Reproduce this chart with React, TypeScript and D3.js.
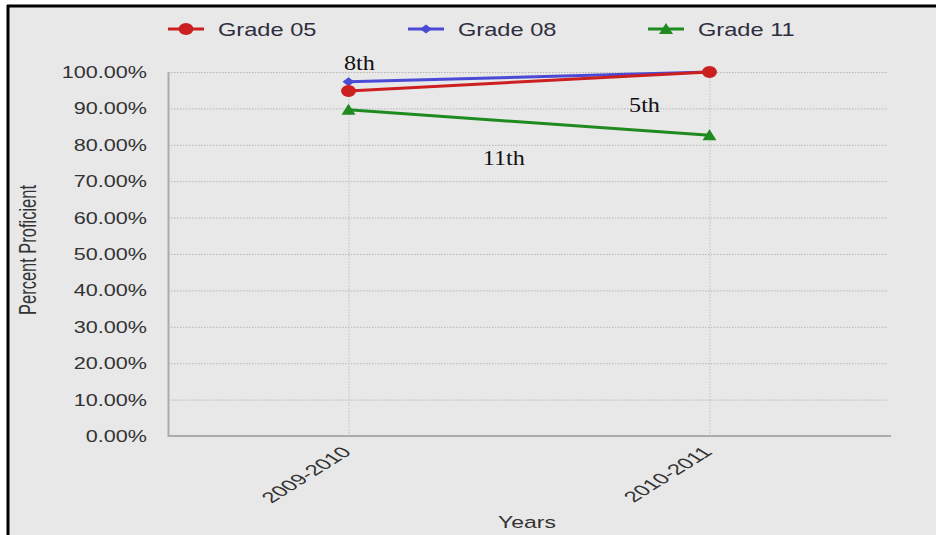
import * as d3 from "d3";

const years = ["2009-2010", "2010-2011"];
const grade05 = [94.8, 100];
const grade08 = [97.3, 100];
const grade11 = [89.6, 82.6];
const seriesNames = ["Grade 05", "Grade 08", "Grade 11"];
const seriesColors = ["#cc1f1f", "#4a4ad6", "#1f8a1f"];
const yTicks = [0, 10, 20, 30, 40, 50, 60, 70, 80, 90, 100];

// free text notes: position as fraction between the two years, and value
const noteLabels = ["8th", "5th", "11th"];
const noteFrac = [0.03, 0.82, 0.43];
const noteValue = [100.5, 89.0, 74.5];

const width = 936;
const height = 535;
const marginTop = 72;
const marginLeft = 168;
const plotRight = 890;
const plotBottom = 436;
const sx = 1.35; // the source image is stretched sideways

const sans = "'Liberation Sans', Arial, sans-serif";

function Marker({ kind, x, y, color }: { kind: number; x: number; y: number; color: string }) {
  if (kind === 0) return <ellipse cx={x} cy={y} rx={7.5} ry={6} fill={color} />;
  if (kind === 1) return <path d={`M${x - 6},${y} L${x},${y - 4.5} L${x + 6},${y} L${x},${y + 4.5}Z`} fill={color} />;
  return <path d={`M${x - 7},${y + 5} L${x},${y - 6} L${x + 7},${y + 5}Z`} fill={color} />;
}

export default function App() {
  const series = [grade05, grade08, grade11];
  // red sits on top of blue in the original
  const drawOrder = [2, 1, 0];

  const x = d3.scalePoint<string>().domain(years).range([marginLeft, plotRight]).padding(0.5);
  const y = d3.scaleLinear().domain([0, 100]).range([plotBottom, marginTop]);

  const line = d3.line<number>()
    .x((_, i) => x(years[i]) as number)
    .y(d => y(d));

  const x0 = x(years[0]) as number;
  const x1 = x(years[1]) as number;

  return (
    <svg width={width} height={height} style={{ position: "absolute", left: 0, top: 0, display: "block" }}>
      <rect x={0} y={0} width={width} height={height} fill="#fff" />
      <rect x={9} y={7} width={width - 9} height={height - 7} fill="#e8e8e8" />
      <line x1={7} x2={width} y1={6} y2={6} stroke="#000" strokeWidth={3} />
      <line x1={8} x2={8} y1={5} y2={height} stroke="#000" strokeWidth={3} />

      {/* legend */}
      {seriesNames.map((name, i) => {
        const lx = 168 + i * 240;
        return (
          <g key={name}>
            <line x1={lx} x2={lx + 36} y1={29} y2={29} stroke={seriesColors[i]} strokeWidth={3} />
            <Marker kind={i} x={lx + 18} y={29} color={seriesColors[i]} />
            <g transform={`translate(${lx + 50},35.5) scale(${sx},1)`}>
              <text fontFamily={sans} fontSize={17.5} fill="#2e2e3e">{name}</text>
            </g>
          </g>
        );
      })}

      {/* grid */}
      {yTicks.filter(t => t > 0).map(t => (
        <line key={t} x1={marginLeft} x2={plotRight - 2} y1={y(t) + 0.5} y2={y(t) + 0.5}
          stroke="#b4b4b4" strokeWidth={1} strokeDasharray="1.5,1.5" />
      ))}
      {years.map(yr => (
        <line key={yr} x1={(x(yr) as number) + 0.5} x2={(x(yr) as number) + 0.5} y1={marginTop} y2={plotBottom}
          stroke="#c0c0c0" strokeWidth={1} strokeDasharray="1.5,1.5" />
      ))}

      {/* axes */}
      <line x1={marginLeft + 0.5} x2={marginLeft + 0.5} y1={marginTop} y2={plotBottom + 1} stroke="#ababab" strokeWidth={2} />
      <line x1={marginLeft} x2={plotRight + 1} y1={plotBottom} y2={plotBottom} stroke="#ababab" strokeWidth={2} />

      {yTicks.map(t => (
        <g key={t} transform={`translate(147,${y(t) + 6}) scale(${sx},1)`}>
          <text fontFamily={sans} fontSize={16} fill="#333" textAnchor="end">{t.toFixed(2)}%</text>
        </g>
      ))}

      {years.map(yr => (
        <g key={yr} transform={`translate(${(x(yr) as number) + 4},${plotBottom + 17}) scale(1.6,1) rotate(-45)`}>
          <text fontFamily={sans} fontSize={15} fill="#333" textAnchor="end">{yr}</text>
        </g>
      ))}

      <g transform={`translate(527,528) scale(${sx},1)`}>
        <text fontFamily={sans} fontSize={17} fill="#333" textAnchor="middle">Years</text>
      </g>
      <g transform={`translate(36,250) scale(${sx},1) rotate(-90)`}>
        <text fontFamily={sans} fontSize={18} fill="#333" textAnchor="middle"
          textLength={130} lengthAdjust="spacingAndGlyphs">Percent Proficient</text>
      </g>

      {/* series */}
      {drawOrder.map(i => (
        <g key={seriesNames[i]}>
          <path d={line(series[i]) as string} fill="none" stroke={seriesColors[i]} strokeWidth={3} />
          {series[i].map((v, j) => (
            <Marker key={j} kind={i} x={x(years[j]) as number} y={y(v)} color={seriesColors[i]} />
          ))}
        </g>
      ))}

      {/* notes */}
      {noteLabels.map((n, i) => (
        <g key={n} transform={`translate(${x0 + noteFrac[i] * (x1 - x0)},${y(noteValue[i])}) scale(1.15,1)`}>
          <text fontFamily="'Liberation Serif', 'Times New Roman', serif" fontSize={21} fill="#111" textAnchor="middle">{n}</text>
        </g>
      ))}
    </svg>
  );
}
